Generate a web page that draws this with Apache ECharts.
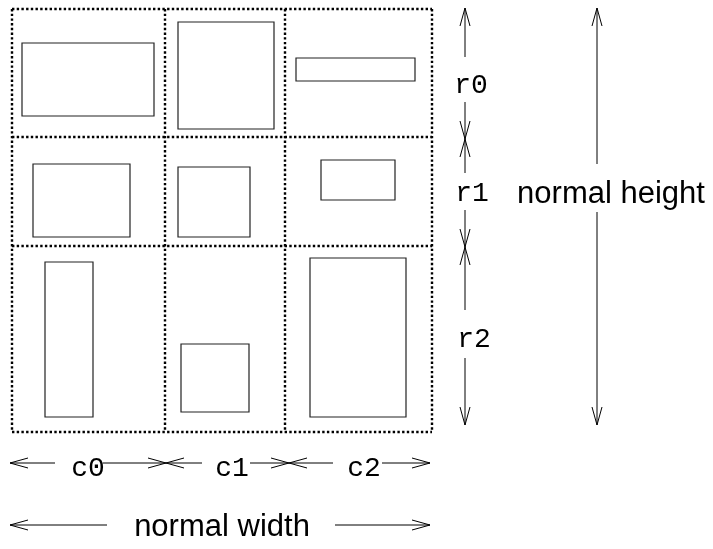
<!DOCTYPE html>
<html>
<head>
<meta charset="utf-8">
<script src="https://cdn.jsdelivr.net/npm/echarts@6/dist/echarts.min.js"></script>
<style>
html,body{margin:0;padding:0;background:#fff;}
#chart{width:713px;height:549px;}
</style>
</head>
<body>
<div id="chart"></div>
<script>
// ---- data (diagram units: x to the right, y downward) ----
var colEdges = [12, 165, 285, 432];
var rowEdges = [9, 137, 246, 432];

// child boxes: [x0, y0, x1, y1]
var boxes = [
  [22, 43, 154, 116],
  [178, 22, 274, 129],
  [296, 58, 415, 81],
  [33, 164, 130, 237],
  [178, 167, 250, 237],
  [321, 160, 395, 200],
  [45, 262, 93, 417],
  [181, 344, 249, 412],
  [310, 258, 406, 417]
];

// arrow segments: [x1, y1, x2, y2, headAtStart, headAtEnd]
var rowArrows = [
  [465, 8, 465, 57, 1, 0],
  [465, 102, 465, 139, 0, 1],
  [465, 139, 465, 173, 1, 0],
  [465, 210, 465, 247, 0, 1],
  [465, 247, 465, 310, 1, 0],
  [465, 358, 465, 425, 0, 1]
];
var colArrows = [
  [10, 463, 55, 463, 1, 0],
  [103, 463, 166, 463, 0, 1],
  [166, 463, 202, 463, 1, 0],
  [250, 463, 289, 463, 0, 1],
  [289, 463, 333, 463, 1, 0],
  [382, 463, 430, 463, 0, 1]
];
var heightArrows = [
  [597, 8, 597, 164, 1, 0],
  [597, 212, 597, 425, 0, 1]
];
var widthArrows = [
  [10, 525, 107, 525, 1, 0],
  [335, 525, 430, 525, 0, 1]
];

var rowLabels = ['r0', 'r1', 'r2'];
var rowLabelPos = [[471, 86], [472, 194], [474, 340]];
var colLabels = ['c0', 'c1', 'c2'];
var colLabelPos = [[88, 469], [232, 469], [364, 469]];
var bigLabels = ['normal height', 'normal width'];
var bigLabelPos = [[611, 194], [222, 527]];

// ---- build ----
var gridLines = [];
colEdges.forEach(function (x) { gridLines.push([x, rowEdges[0], x, rowEdges[rowEdges.length - 1]]); });
rowEdges.forEach(function (y) { gridLines.push([colEdges[0], y, colEdges[colEdges.length - 1], y]); });

var allArrows = rowArrows.concat(colArrows, heightArrows, widthArrows);

var monoLabels = [];
rowLabels.forEach(function (t, i) { monoLabels.push([rowLabelPos[i][0], rowLabelPos[i][1], t]); });
colLabels.forEach(function (t, i) { monoLabels.push([colLabelPos[i][0], colLabelPos[i][1], t]); });
var sansLabels = bigLabels.map(function (t, i) { return [bigLabelPos[i][0], bigLabelPos[i][1], t]; });

var HEAD_LEN = 18, HEAD_HALF = 5;

function arrowHead(tip, from) {
  var dx = tip[0] - from[0], dy = tip[1] - from[1];
  var len = Math.sqrt(dx * dx + dy * dy) || 1;
  var ux = dx / len, uy = dy / len;
  var px = -uy, py = ux;
  var bx = tip[0] - ux * HEAD_LEN, by = tip[1] - uy * HEAD_LEN;
  return [[bx + px * HEAD_HALF, by + py * HEAD_HALF], tip, [bx - px * HEAD_HALF, by - py * HEAD_HALF]];
}

var chart = echarts.init(document.getElementById('chart'), null, { renderer: 'canvas' });
chart.setOption({
  backgroundColor: '#ffffff',
  animation: false,
  grid: { left: 0, right: 0, top: 0, bottom: 0 },
  xAxis: { type: 'value', min: 0, max: 713, show: false },
  yAxis: { type: 'value', min: 0, max: 549, inverse: true, show: false },
  series: [
    {
      type: 'custom', name: 'grid', coordinateSystem: 'cartesian2d', silent: true,
      data: gridLines,
      renderItem: function (params, api) {
        var p1 = api.coord([api.value(0), api.value(1)]);
        var p2 = api.coord([api.value(2), api.value(3)]);
        return {
          type: 'line',
          shape: { x1: p1[0], y1: p1[1], x2: p2[0], y2: p2[1] },
          style: { stroke: '#000', lineWidth: 2.4, lineDash: [2.4, 2.3], lineCap: 'butt' }
        };
      }
    },
    {
      type: 'custom', name: 'boxes', coordinateSystem: 'cartesian2d', silent: true,
      data: boxes,
      renderItem: function (params, api) {
        var p1 = api.coord([api.value(0), api.value(1)]);
        var p2 = api.coord([api.value(2), api.value(3)]);
        return {
          type: 'rect',
          shape: { x: p1[0], y: p1[1], width: p2[0] - p1[0], height: p2[1] - p1[1] },
          style: { fill: 'none', stroke: '#222', lineWidth: 1.2 }
        };
      }
    },
    {
      type: 'custom', name: 'arrows', coordinateSystem: 'cartesian2d', silent: true,
      data: allArrows,
      renderItem: function (params, api) {
        var p1 = api.coord([api.value(0), api.value(1)]);
        var p2 = api.coord([api.value(2), api.value(3)]);
        var style = { stroke: '#000', lineWidth: 1, fill: 'none' };
        var children = [{ type: 'line', shape: { x1: p1[0], y1: p1[1], x2: p2[0], y2: p2[1] }, style: style }];
        if (api.value(4)) children.push({ type: 'polyline', shape: { points: arrowHead(p1, p2) }, style: style });
        if (api.value(5)) children.push({ type: 'polyline', shape: { points: arrowHead(p2, p1) }, style: style });
        return { type: 'group', children: children };
      }
    },
    {
      type: 'custom', name: 'monoLabels', coordinateSystem: 'cartesian2d', silent: true,
      data: monoLabels,
      renderItem: function (params, api) {
        var p = api.coord([api.value(0), api.value(1)]);
        return {
          type: 'text',
          style: {
            text: monoLabels[params.dataIndex][2], x: p[0], y: p[1],
            fontFamily: '"Liberation Mono", "DejaVu Sans Mono", monospace', fontSize: 28,
            align: 'center', verticalAlign: 'middle', fill: '#000'
          }
        };
      }
    },
    {
      type: 'custom', name: 'sansLabels', coordinateSystem: 'cartesian2d', silent: true,
      data: sansLabels,
      renderItem: function (params, api) {
        var p = api.coord([api.value(0), api.value(1)]);
        return {
          type: 'text',
          style: {
            text: sansLabels[params.dataIndex][2], x: p[0], y: p[1],
            fontFamily: '"Liberation Sans", Arial, sans-serif', fontSize: 31,
            align: 'center', verticalAlign: 'middle', fill: '#000'
          }
        };
      }
    }
  ]
});
</script>
</body>
</html>
